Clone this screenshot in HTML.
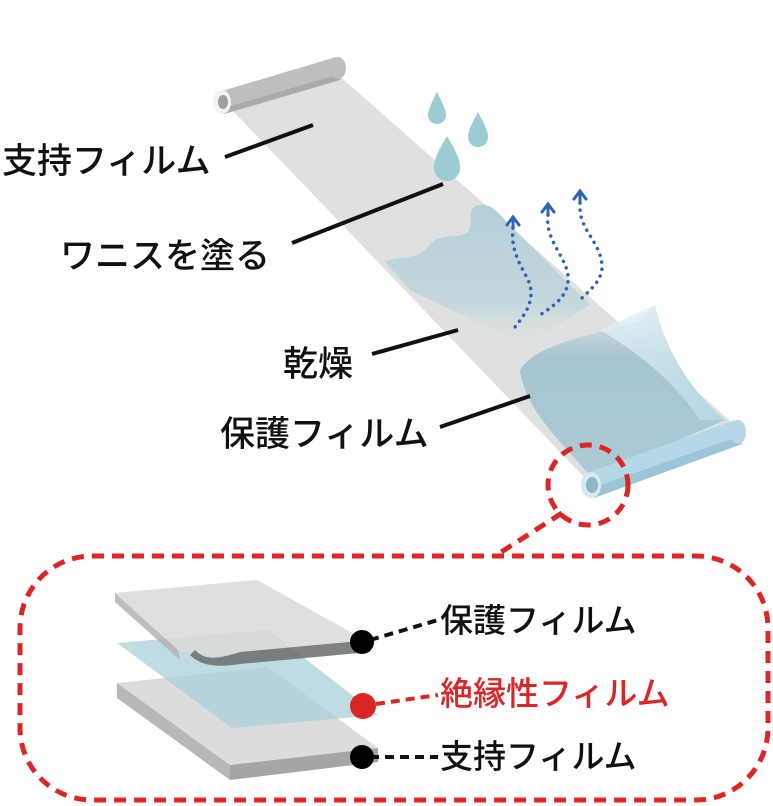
<!DOCTYPE html>
<html><head><meta charset="utf-8"><style>
html,body{margin:0;padding:0;background:#fff;}
svg{display:block;}
text{font-family:"Liberation Sans","Noto Sans CJK JP",sans-serif;font-weight:500;}
</style></head><body>
<svg width="773" height="806" viewBox="0 0 773 806" xmlns="http://www.w3.org/2000/svg">
<defs>
<linearGradient id="pf" x1="0" y1="0" x2="0" y2="1">
<stop offset="0" stop-color="#c9dde4" stop-opacity="0.5"/>
<stop offset="0.3" stop-color="#9fc2cf"/>
<stop offset="1" stop-color="#a6c8d4"/>
</linearGradient>
<linearGradient id="vn" x1="0" y1="0" x2="0" y2="1">
<stop offset="0" stop-color="#b5d0d8"/>
<stop offset="0.7" stop-color="#c3d7dc"/>
<stop offset="1" stop-color="#d8dfe0" stop-opacity="0"/>
</linearGradient>
<linearGradient id="curl" x1="0" y1="0" x2="1" y2="1">
<stop offset="0" stop-color="#e6f1f6"/>
<stop offset="1" stop-color="#b7d9e8"/>
</linearGradient>
</defs>

<polygon points="232,110 335,72 735,425 585,478" fill="#dcdedd" opacity="0.9"/>
<polygon points="222,91 336,57 340,80 224,114" fill="#bdbebe"/>
<polygon points="224,108 340,74 340,80 224,114" fill="#a9abab"/>
<ellipse cx="338" cy="68" rx="8" ry="11" fill="#bdbebe"/>
<ellipse cx="222" cy="102" rx="9" ry="12" fill="#f2f2f2"/>
<ellipse cx="223" cy="102" rx="5" ry="7" fill="#9e9e9e"/>

<path d="M385,262 C400,255 415,262 430,245 C440,232 455,240 468,232 C475,222 465,206 480,205 C492,203 500,215 510,225 L590,305 L525,345 L410,290 Z" fill="url(#vn)"/>

<path d="M520,370 C540,340 600,335 640,320 L655,305 C665,350 690,390 725,420 L592,478 C560,440 525,410 520,370 Z" fill="url(#pf)" opacity="0.9"/>
<path d="M600,330 L655,305 C665,350 690,390 725,420 L700,420 C680,390 650,360 600,330 Z" fill="url(#curl)" opacity="0.8"/>

<polygon points="590,472 735,420 742,444 594,498" fill="#b4d8e8"/>
<polygon points="592,488 740,436 742,444 594,498" fill="#9cc5d8"/>
<ellipse cx="738" cy="432" rx="8" ry="12" fill="#b4d8e8"/>
<ellipse cx="591" cy="485" rx="10" ry="13" fill="#d6eaf2"/>
<ellipse cx="592" cy="485" rx="6" ry="8" fill="#8fb6c4"/>

<g fill="#9ccbd3">
<path d="M437,92 C431,104 428,110 428,115 A9,9 0 0 0 446,115 C446,110 443,104 437,92Z"/>
<path d="M478,112 C471,125 468,131 468,137 A10,10 0 0 0 488,137 C488,131 485,125 478,112Z"/>
<path d="M447,136 C439,150 434,158 434,168 A13,13 0 0 0 460,168 C460,158 455,150 447,136Z"/>
</g>

<g fill="none" stroke="#2b63b5" stroke-width="3.5" stroke-linecap="round" stroke-dasharray="0.1 7">
<path d="M513,228 C510,255 525,270 530,285 C535,305 520,320 515,327"/>
<path d="M548,215 C545,240 565,255 568,275 C570,295 555,305 540,315"/>
<path d="M580,203 C578,230 600,240 602,265 C603,280 590,290 580,300"/>
</g>
<g fill="none" stroke="#2b63b5" stroke-width="3" stroke-linecap="round">
<path d="M507,225 L513,217 L519,225 M513,217 L513,228"/>
<path d="M542,212 L548,204 L554,212 M548,204 L548,215"/>
<path d="M574,199 L580,191 L586,199 M580,191 L580,202"/>
</g>

<g stroke="#111" stroke-width="4">
<line x1="225" y1="157" x2="313" y2="125"/>
<line x1="292" y1="243" x2="443" y2="184"/>
<line x1="372" y1="354" x2="458" y2="330"/>
<line x1="440" y1="427" x2="530" y2="396"/>
</g>
<g font-size="35" fill="#111">
<text x="2" y="173">支持フィルム</text>
<text x="60" y="268">ワニスを塗る</text>
<text x="283" y="376">乾燥</text>
<text x="220" y="446">保護フィルム</text>
</g>

<g fill="none" stroke="#dc2626" stroke-width="5" stroke-dasharray="12 8">
<circle cx="588" cy="485" r="40"/>
<line x1="562" y1="513" x2="495" y2="556"/>
<rect x="20" y="556" width="748" height="244" rx="72"/>
</g>

<polygon points="117,683 268,667 378,748 230,765" fill="#dcdcdc"/>
<polygon points="117,683 230,765 230,780 117,698" fill="#b8b8b8"/>
<polygon points="230,765 378,748 378,762 230,780" fill="#a5a5a5"/>

<polygon points="117,643 268,630 378,715 232,728" fill="#a9d0da" opacity="0.75"/>

<polygon points="115,593 257,580 365,640 250,652 205,657 178,650" fill="#d9d9d9" opacity="0.85"/>
<polygon points="115,593 178,650 180,660 115,602" fill="#b3b3b3" opacity="0.85"/>
<path d="M195,650 C205,660 215,660 240,652 L370,640 L370,652 L240,664 C215,668 200,665 190,655Z" fill="#6a6d6e" opacity="0.85"/>

<g stroke="#111" stroke-width="4" stroke-dasharray="9 6">
<line x1="370" y1="640" x2="438" y2="620"/>
<line x1="370" y1="757" x2="438" y2="757"/>
</g>
<line x1="376" y1="704" x2="438" y2="695" stroke="#dc2626" stroke-width="4" stroke-dasharray="9 6"/>
<circle cx="362" cy="642" r="12" fill="#000"/>
<circle cx="363" cy="706" r="13" fill="#dc2626"/>
<circle cx="362" cy="757" r="12" fill="#000"/>
<g font-size="33">
<text x="440" y="632" fill="#111">保護フィルム</text>
<text x="440" y="705" fill="#dc2626">絶縁性フィルム</text>
<text x="440" y="768" fill="#111">支持フィルム</text>
</g>
</svg>
</body></html>
